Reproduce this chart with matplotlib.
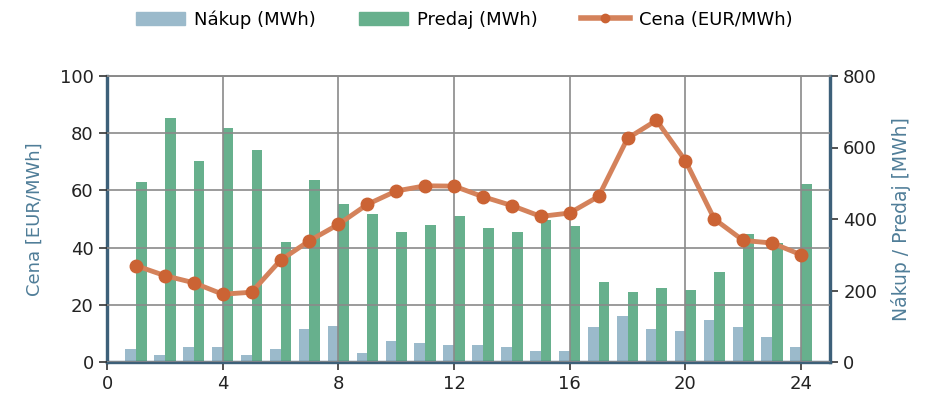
import matplotlib.pyplot as plt
import numpy as np
from matplotlib.lines import Line2D
from matplotlib.patches import Patch

# data
hours = list(range(1, 25))
nakup = [37, 20, 43, 43, 20, 37, 91, 101, 26, 58, 53, 48,
         48, 43, 31, 31, 97, 129, 91, 87, 118, 97, 70, 43]
predaj = [504, 683, 561, 655, 594, 336, 510, 442, 414, 364, 382, 409,
          375, 364, 397, 381, 225, 197, 207, 202, 253, 358, 332, 498]
cena = [33.7, 30.2, 27.7, 23.7, 24.4, 35.6, 42.4, 48.1, 55.1, 59.8, 61.6, 61.5,
        57.8, 54.7, 50.9, 52.1, 57.9, 78.2, 84.5, 70.4, 50.0, 42.5, 41.6, 37.5]

c_nakup = '#9bbacb'
c_predaj = '#67b08d'
c_cena = '#cb6334'
c_line = '#d4825b'
c_axis = '#3d6079'
c_label = '#4f7d98'
c_grid = '#8a8a8a'

plt.rcParams['font.family'] = ['DejaVu Sans']
fig = plt.figure(figsize=(9.34, 4), dpi=100)
ax1 = fig.add_axes([0.1146, 0.095, 0.774, 0.715])
ax2 = ax1.twinx()

x = np.array(hours)
w = 0.37
ax1.bar(x - w / 2, nakup, width=w, color=c_nakup)
ax1.bar(x + w / 2, predaj, width=w, color=c_predaj)
ax1.set_ylim(0, 800)
ax1.set_yticks([0, 200, 400, 600, 800])
ax1.yaxis.tick_right()
ax1.yaxis.set_label_position('right')
ax1.set_ylabel('Nákup / Predaj [MWh]', color=c_label, fontsize=13.5, labelpad=10)
ax1.set_axisbelow(False)
ax1.xaxis.grid(True, color=c_grid, lw=1.2)

ax2.plot(x, cena, color=c_line, lw=3.5, marker='o', ms=9,
         mfc=c_cena, mec=c_cena, zorder=5)
ax2.set_ylim(0, 100)
ax2.set_yticks([0, 20, 40, 60, 80, 100])
ax2.yaxis.tick_left()
ax2.yaxis.set_label_position('left')
ax2.set_ylabel('Cena [EUR/MWh]', color=c_label, fontsize=13, labelpad=12)
ax2.yaxis.grid(True, color=c_grid, lw=1.2)
ax2.set_axisbelow(False)

ax1.set_xlim(0, 25)
ax1.set_xticks([0, 4, 8, 12, 16, 20, 24])

for a in (ax1, ax2):
    a.tick_params(labelsize=13, color='#333333', length=6, width=1.2,
                  labelcolor='#222222')
    for s in ('left', 'right', 'bottom'):
        a.spines[s].set_color(c_axis)
        a.spines[s].set_linewidth(2.3)
    a.spines['top'].set_color(c_grid)
    a.spines['top'].set_linewidth(1.2)

handles = [Patch(color=c_nakup), Patch(color=c_predaj),
           Line2D([], [], color=c_line, lw=4, marker='o', ms=6,
                  mfc=c_cena, mec=c_cena)]
fig.legend(handles, ['Nákup (MWh)', 'Predaj (MWh)', 'Cena (EUR/MWh)'],
           loc='upper center', bbox_to_anchor=(0.497, 1.015), ncol=3,
           frameon=False, fontsize=13, handlelength=2.7, columnspacing=2.4,
           handletextpad=0.5)

plt.savefig('out.png', dpi=100)
